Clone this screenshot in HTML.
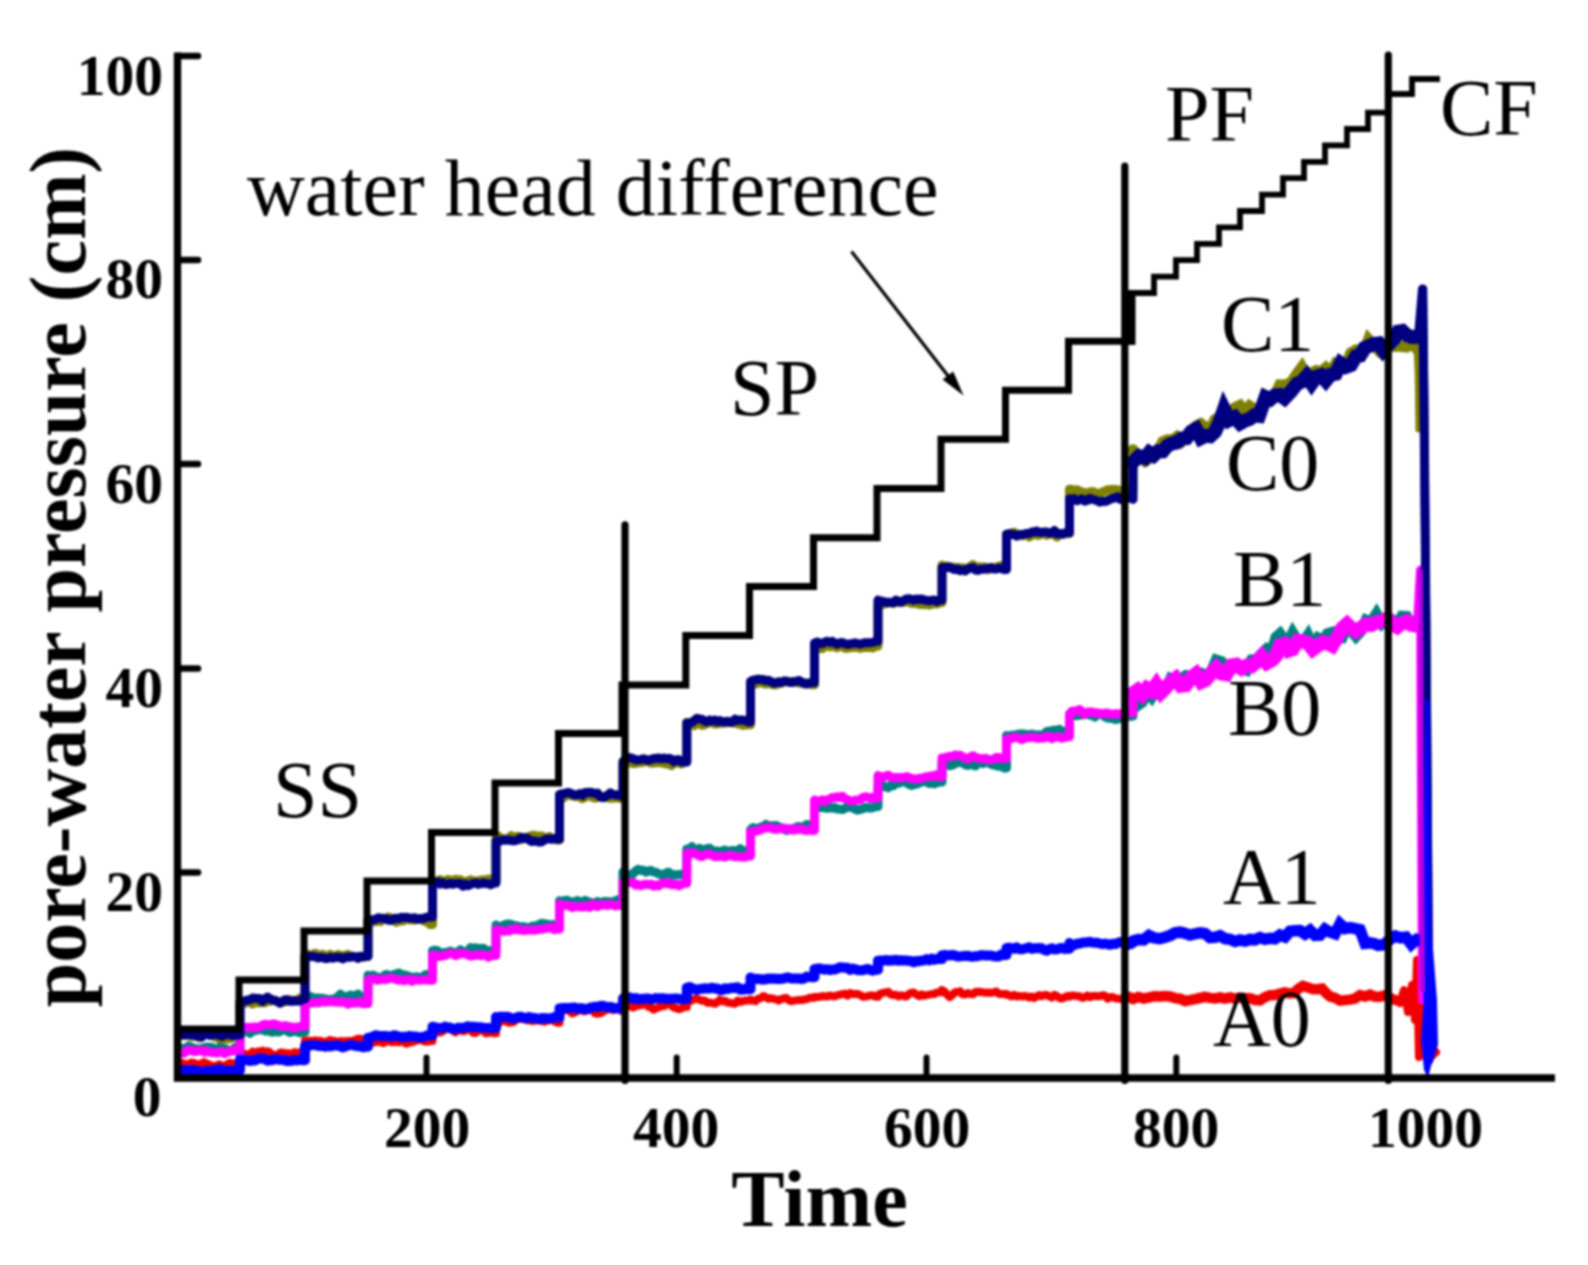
<!DOCTYPE html>
<html lang="en">
<head>
<meta charset="utf-8">
<title>Pore-water pressure versus time</title>
<style>
html,body{margin:0;padding:0;background:#fff;}
body{width:1588px;height:1265px;overflow:hidden;}
svg{display:block;filter:blur(0.9px);}
svg text{font-family:"Liberation Serif",serif;fill:#000;}
.curves path{fill:none;stroke-linejoin:round;stroke-linecap:round;}
.frame path{fill:none;}
</style>
</head>
<body>
<svg width="1588" height="1265" viewBox="0 0 1588 1265">
<rect width="1588" height="1265" fill="#fff"/>
<g class="curves">
<path d="M181 1062.6 L183.6 1063.6 L186.1 1064.9 L188.7 1063.9 L191.3 1062.4 L193.8 1063 L196.4 1063.9 L199 1065.2 L201.5 1063.3 L204.1 1062.1 L206.7 1063.7 L209.2 1064.4 L211.8 1066 L214.3 1066.3 L216.9 1065.3 L219.5 1064.4 L222 1067.2 L224.6 1065.6 L227.2 1064.1 L229.7 1062.7 L232.3 1063.3 L234.9 1063.8 L237.4 1063.5 L240 1063.5 L240 1052.6 L242.5 1053.1 L245 1053.8 L247.5 1054.8 L250 1054.3 L252.5 1051.7 L255 1053 L257.5 1051.4 L260 1051.8 L262.5 1050.6 L265 1051.6 L267.5 1051.3 L270 1052.2 L272.5 1056.3 L275 1054.9 L277.5 1055.1 L280 1052.8 L282.5 1052.5 L285 1053.5 L287.5 1053.2 L290 1053.5 L292.5 1053.4 L295 1052.1 L297.5 1053.1 L300 1052.1 L302.5 1054.6 L305 1054.6 L305 1040.4 L307.5 1041 L310 1040.6 L312.6 1041.5 L315.1 1040.2 L317.6 1041.3 L320.1 1040.6 L322.6 1041.8 L325.2 1041.8 L327.7 1041.2 L330.2 1039.9 L332.7 1040.8 L335.2 1041 L337.8 1042.5 L340.3 1041.1 L342.8 1041.3 L345.3 1041.3 L347.8 1041.1 L350.4 1040.9 L352.9 1040.8 L355.4 1039.8 L357.9 1038.7 L360.4 1038.8 L363 1039.9 L365.5 1041.7 L368 1041.7 L368 1042.1 L370.6 1042.5 L373.2 1042.4 L375.7 1042.2 L378.3 1041.5 L380.9 1041.8 L383.5 1043.1 L386.1 1041.5 L388.6 1040.1 L391.2 1042.3 L393.8 1041.7 L396.4 1042.1 L399 1042.3 L401.5 1040.1 L404.1 1042.8 L406.7 1043.7 L409.3 1042.4 L411.9 1042.3 L414.4 1041.5 L417 1039.9 L419.6 1039.8 L422.2 1040.3 L424.8 1041.5 L427.3 1041.7 L429.9 1041.1 L432.5 1041.1 L432.5 1032.7 L435 1030.9 L437.6 1031.7 L440.1 1032.5 L442.7 1031.4 L445.2 1029 L447.7 1028.5 L450.3 1029.6 L452.8 1030.6 L455.4 1032.3 L457.9 1030.4 L460.4 1030.5 L463 1031.2 L465.5 1030.8 L468.1 1027.9 L470.6 1029.9 L473.1 1032.8 L475.7 1033 L478.2 1031 L480.8 1030.3 L483.3 1030.6 L485.8 1033.4 L488.4 1033 L490.9 1032.1 L493.5 1033.2 L496 1033.2 L496 1022.1 L498.5 1023.6 L501.1 1021.6 L503.6 1020.6 L506.2 1021.4 L508.7 1022.7 L511.2 1022.5 L513.8 1022.1 L516.3 1019.4 L518.9 1019 L521.4 1018.9 L523.9 1018.9 L526.5 1020.2 L529 1020 L531.6 1021.1 L534.1 1020.9 L536.6 1020.4 L539.2 1020.6 L541.7 1021 L544.3 1021.8 L546.8 1020.7 L549.3 1020.4 L551.9 1018.9 L554.4 1021.4 L557 1022.7 L559.5 1022.7 L559.5 1012.1 L562 1011.1 L564.6 1009.7 L567.1 1010.4 L569.7 1010.9 L572.2 1013.4 L574.7 1012.7 L577.3 1011.1 L579.8 1008.3 L582.4 1011 L584.9 1011.2 L587.4 1009.3 L590 1010.2 L592.5 1008.7 L595.1 1013.6 L597.6 1013.8 L600.1 1013.4 L602.7 1012.2 L605.2 1009.3 L607.8 1009.8 L610.3 1008.5 L612.8 1010.2 L615.4 1008.1 L617.9 1008.2 L620.5 1010.7 L623 1010.7 L623 1008.4 L625.6 1006.4 L628.1 1004.8 L630.7 1006.5 L633.2 1007.6 L635.8 1006.1 L638.3 1005.5 L640.9 1005.2 L643.4 1004.4 L646 1004.6 L648.5 1006.9 L651.1 1007.6 L653.6 1009.6 L656.2 1008.3 L658.7 1007.5 L661.3 1006.1 L663.8 1006.2 L666.4 1004.9 L668.9 1003.6 L671.5 1005.6 L674 1007.7 L676.6 1008.3 L679.1 1009.2 L681.7 1008.5 L684.2 1006.9 L686.8 1006.9 L686.8 1002 L689.3 1001.5 L691.9 1000.4 L694.4 999 L697 998.4 L699.5 999.8 L702.1 1000.8 L704.6 1000.6 L707.2 1002.7 L709.7 1002.6 L712.3 1002.9 L714.8 1003.9 L717.4 1002.1 L719.9 999.7 L722.5 1001.4 L725 1000.8 L727.6 1002.7 L730.1 1002.7 L732.7 1003.5 L735.2 1003.7 L737.8 1000.6 L740.3 1001.9 L742.9 1001.1 L745.4 1000.5 L748 1000.5 L750.5 1000.5 L750.5 999.5 L753.1 1000.5 L755.6 1001.2 L758.2 998.6 L760.7 998.2 L763.3 996 L765.9 997.2 L768.4 998.8 L771 998.2 L773.5 998.9 L776.1 999.4 L778.7 1000.5 L781.2 999.1 L783.8 998.3 L786.3 997.9 L788.9 1000.5 L791.5 1001.3 L794 1000.4 L796.6 1000.3 L799.1 1000 L801.7 1000 L804.3 999.5 L806.8 999.1 L809.4 997.8 L811.9 997.7 L814.5 997.7 L814.5 996.9 L817 997.1 L819.6 996.8 L822.1 996.2 L824.7 996.2 L827.2 996.5 L829.7 995.6 L832.3 996 L834.8 996.3 L837.4 995.3 L839.9 994.7 L842.4 994.1 L845 993.6 L847.5 995.6 L850.1 993.1 L852.6 993.9 L855.1 994.1 L857.7 994.1 L860.2 995 L862.8 996.7 L865.3 996.5 L867.8 996.1 L870.4 995.4 L872.9 995.5 L875.5 996.7 L878 996.7 L878 995 L880.6 993.7 L883.1 992.8 L885.7 992.4 L888.2 991.8 L890.8 994.4 L893.4 995 L895.9 994.7 L898.5 996.5 L901 995.2 L903.6 996 L906.2 996.5 L908.7 994.1 L911.3 992.7 L913.8 992.6 L916.4 994.6 L919 996.2 L921.5 994.3 L924.1 995.8 L926.6 995 L929.2 994.6 L931.8 994.1 L934.3 994.1 L936.9 992.4 L939.4 992.3 L942 992.3 L942 990 L944.6 991.7 L947.2 994.6 L949.7 997.1 L952.3 995.1 L954.9 992.3 L957.5 992.1 L960.1 991.4 L962.6 994.3 L965.2 994.4 L967.8 993 L970.4 994.1 L973 994.3 L975.5 991.9 L978.1 991.7 L980.7 992 L983.3 992.4 L985.9 992.8 L988.4 992.5 L991 992.9 L993.6 992.3 L996.2 991.5 L998.8 993.9 L1001.3 993.9 L1003.9 994.1 L1006.5 994.1 L1006.5 994.8 L1009 995.1 L1011.5 996.4 L1014.1 994.8 L1016.6 996.5 L1019.1 995.9 L1021.6 996.4 L1024.1 996.1 L1026.7 996.3 L1029.2 997.6 L1031.7 996.5 L1034.2 998.1 L1036.7 996.3 L1039.3 995.1 L1041.8 996.3 L1044.3 995 L1046.8 995 L1049.3 996.4 L1051.9 997.6 L1054.4 994.9 L1056.9 995.9 L1059.4 998.1 L1061.9 998.6 L1064.5 997.3 L1067 996.1 L1069.5 996.1 L1069.5 996.7 L1072 995.5 L1074.6 995.8 L1077.1 996.1 L1079.7 996.3 L1082.2 997.9 L1084.7 997.3 L1087.3 995.5 L1089.8 997.3 L1092.4 996 L1094.9 995.9 L1097.4 996.2 L1100 996.1 L1102.5 995.3 L1105.1 995.7 L1107.6 998.7 L1110.1 997.3 L1112.7 997 L1115.2 998.3 L1117.8 998.6 L1120.3 998.9 L1122.8 999.1 L1125.4 996 L1127.9 995.4 L1130.5 996.2 L1133 997 L1133 999.2 L1138.4 997" stroke="#f00000" stroke-width="8" />
<path d="M1133 999.2 L1138.4 997 L1143.8 998.6 L1149.2 997.3 L1154.6 996.2 L1160 996.4 L1165 996 L1170 996.5 L1175 998.1 L1180 998.7 L1185 1001.1 L1190 1000.1 L1195 999.1 L1200 998 L1205 996.9 L1210 997.9 L1215 998.5 L1220 997.3 L1225 998.6 L1230 997.4 L1235 998.7 L1240 997.5 L1245 998.3 L1250 998.2 L1255 1000 L1260 1000.4 L1265 997.2 L1270 995.2 L1275 995.1 L1280 993.6 L1285 992.5 L1289.5 993.5 L1294 993 L1298.5 988.6 L1303 985.9 L1307.8 987.4 L1312.5 989 L1317.2 989.2 L1322 988.5 L1326 993 L1330 996.5 L1335 997.8 L1340 1000.7 L1345 1000.1 L1350 999.6 L1355 998.6 L1360 995.1 L1365 996.4 L1370 994.7 L1375 996.7 L1380 996.7 L1385 995.4 L1390 998 L1395 1000" stroke="#f00000" stroke-width="10.5" style="stroke-linejoin:miter;stroke-miterlimit:6"/>
<path d="M1395 1000 L1400 1003 L1404 990 L1408 1012 L1412 985 L1415 1020 L1417 960 L1419 1057 L1421 975 L1424 1050 L1430 1058 L1436 1052" stroke="#f00000" stroke-width="8" />
<path d="M181 1034.5 L183.6 1035.3 L186.1 1035.3 L188.7 1035.1 L191.3 1036.5 L193.8 1036.3 L196.4 1035.9 L199 1037.9 L201.5 1036.6 L204.1 1035 L206.7 1034 L209.2 1034.2 L211.8 1035.6 L214.3 1036.7 L216.9 1037.6 L219.5 1038.9 L222 1039.6 L224.6 1038.8 L227.2 1039.1 L229.7 1038.6 L232.3 1037 L234.9 1037.5 L237.4 1037 L240 1037 L240 1001.4 L242.5 1003.4 L245 1003.3 L247.5 1001.9 L250 1001.5 L252.5 1003.9 L255 1002.5 L257.5 1002.8 L260 1002.8 L262.5 1002.7 L265 1002.7 L267.5 1001.6 L270 1000.9 L272.5 1000.8 L275 1000.6 L277.5 1001.7 L280 1003.1 L282.5 1001.4 L285 1001.9 L287.5 1000.5 L290 1000 L292.5 1000.2 L295 1000.7 L297.5 1000.4 L300 997.9 L302.5 1000.7 L305 1000.7 L305 954.6 L307.5 954.1 L310 955.3 L312.6 954.6 L315.1 953.3 L317.6 954.5 L320.1 955.2 L322.6 954.3 L325.2 955.5 L327.7 955.8 L330.2 954.3 L332.7 956.5 L335.2 956.3 L337.8 954.6 L340.3 955.3 L342.8 955.4 L345.3 956.3 L347.8 954.4 L350.4 955.8 L352.9 956.6 L355.4 956.7 L357.9 956.8 L360.4 957.5 L363 957.3 L365.5 956.6 L368 956.6 L368 920.1 L370.6 921.3 L373.2 921.9 L375.7 921.5 L378.3 921.1 L380.9 921.5 L383.5 918.3 L386.1 919.4 L388.6 917 L391.2 918.5 L393.8 920.3 L396.4 922.3 L399 920.9 L401.5 921.1 L404.1 920.6 L406.7 918 L409.3 919.7 L411.9 919.8 L414.4 920 L417 919.1 L419.6 919.4 L422.2 919.8 L424.8 921.3 L427.3 921.1 L429.9 924.5 L432.5 924.5 L432.5 882.3 L435 881.1 L437.6 880.7 L440.1 879.6 L442.7 881.4 L445.2 881.6 L447.7 879.6 L450.3 880 L452.8 881.3 L455.4 879.3 L457.9 879.8 L460.4 879.7 L463 882.3 L465.5 881.9 L468.1 880.8 L470.6 879.9 L473.1 882 L475.7 880.8 L478.2 883 L480.8 880.1 L483.3 879.9 L485.8 879.8 L488.4 879.1 L490.9 879.3 L493.5 880.4 L496 880.4 L496 837.6 L498.5 836.3 L501.1 838.4 L503.6 839.9 L506.2 838.4 L508.7 838.6 L511.2 835.7 L513.8 837.8 L516.3 836.5 L518.9 836.5 L521.4 839.5 L523.9 837.6 L526.5 837.8 L529 836.8 L531.6 835.4 L534.1 835.2 L536.6 836.7 L539.2 835.9 L541.7 836.1 L544.3 837.7 L546.8 837.7 L549.3 836.5 L551.9 838.7 L554.4 838.6 L557 839.9 L559.5 839.9 L559.5 797.1 L562 798.9 L564.6 796.7 L567.1 795 L569.7 795.4 L572.2 795.7 L574.7 796.5 L577.3 796.2 L579.8 797.2 L582.4 798.6 L584.9 797.3 L587.4 795.8 L590 795.9 L592.5 797.3 L595.1 798.1 L597.6 797.3 L600.1 796.2 L602.7 796.5 L605.2 797.8 L607.8 796.8 L610.3 798.3 L612.8 798.1 L615.4 798 L617.9 797 L620.5 798.5 L623 798.5 L623 763.5 L625.6 761.5 L628.1 762.9 L630.7 762.3 L633.2 763.6 L635.8 763.4 L638.3 762.4 L640.9 762.7 L643.4 762.1 L646 761.4 L648.5 761.9 L651.1 763.1 L653.6 763 L656.2 762.7 L658.7 762.1 L661.3 762.9 L663.8 763.1 L666.4 763.9 L668.9 763.8 L671.5 765.6 L674 762.7 L676.6 762.6 L679.1 763.2 L681.7 763.9 L684.2 761.8 L686.8 761.8 L686.8 722.3 L689.3 723 L691.9 724.6 L694.4 725.6 L697 723.4 L699.5 723.8 L702.1 725.2 L704.6 724.8 L707.2 723.4 L709.7 722.9 L712.3 722 L714.8 724.1 L717.4 723.8 L719.9 723.5 L722.5 722.8 L725 723.2 L727.6 722.6 L730.1 722.1 L732.7 722.9 L735.2 723.1 L737.8 724 L740.3 724.2 L742.9 725.4 L745.4 724.9 L748 724.8 L750.5 724.8 L750.5 683.8 L753.1 682.7 L755.6 684.1 L758.2 683.1 L760.7 681.4 L763.3 683.4 L765.9 684 L768.4 683 L771 684.1 L773.5 684.7 L776.1 684.8 L778.7 682.9 L781.2 683.2 L783.8 682 L786.3 681.8 L788.9 681.7 L791.5 681.4 L794 682.6 L796.6 682 L799.1 683.1 L801.7 683.3 L804.3 682.6 L806.8 683 L809.4 683.8 L811.9 684.7 L814.5 684.7 L814.5 646.8 L817 648.4 L819.6 648.1 L822.1 648.6 L824.7 646.2 L827.2 645 L829.7 646.7 L832.3 646.3 L834.8 646.7 L837.4 647.7 L839.9 645.5 L842.4 646.3 L845 648.3 L847.5 648.3 L850.1 647.5 L852.6 647.5 L855.1 647 L857.7 647.5 L860.2 648.3 L862.8 647.2 L865.3 647.4 L867.8 647.2 L870.4 647.5 L872.9 647.9 L875.5 646 L878 646 L878 605.3 L880.6 605.7 L883.1 603.9 L885.7 603.7 L888.2 602.3 L890.8 602.7 L893.4 603.6 L895.9 602.6 L898.5 602.4 L901 602.1 L903.6 602.2 L906.2 602.1 L908.7 601.8 L911.3 603.3 L913.8 603.4 L916.4 602.8 L919 604.4 L921.5 603.7 L924.1 604.8 L926.6 603.2 L929.2 605.1 L931.8 604.2 L934.3 603.2 L936.9 604 L939.4 602.6 L942 602.6 L942 565.1 L944.6 566.1 L947.2 566 L949.7 566.9 L952.3 567.1 L954.9 567.4 L957.5 567.4 L960.1 568 L962.6 567.7 L965.2 568.6 L967.8 569 L970.4 566.2 L973 564.7 L975.5 567.3 L978.1 566.8 L980.7 567.1 L983.3 567 L985.9 567.3 L988.4 569.6 L991 567.8 L993.6 567.6 L996.2 567.4 L998.8 566.1 L1001.3 565.6 L1003.9 565.9 L1006.5 565.9 L1006.5 534.4 L1009 535.1 L1011.5 533 L1014.1 532.2 L1016.6 535.1 L1019.1 534.9 L1021.6 535.9 L1024.1 535.1 L1026.7 534.4 L1029.2 536.9 L1031.7 534.9 L1034.2 534 L1036.7 535.2 L1039.3 535.2 L1041.8 533.4 L1044.3 534.2 L1046.8 535.3 L1049.3 533.6 L1051.9 533.6 L1054.4 535.1 L1056.9 537.1 L1059.4 533.8 L1061.9 533.6 L1064.5 534.2 L1067 533.6 L1069.5 533.6 L1069.5 489.2 L1072 489.5 L1074.6 490.7 L1077.1 489.7 L1079.7 491.2 L1082.2 492 L1084.7 492.6 L1087.3 493.6 L1089.8 492 L1092.4 491.6 L1094.9 492.5 L1097.4 493.3 L1100 493.4 L1102.5 492 L1105.1 491.1 L1107.6 489.7 L1110.1 489.8 L1112.7 489.4 L1115.2 489.5 L1117.8 489.8 L1120.3 491.2 L1122.8 492.1 L1125.4 491.6 L1127.9 490.2 L1130.5 490.5 L1133 491 L1133 449.8 L1139 457" stroke="#808000" stroke-width="9" />
<path d="M1133 449.8 L1139 457 L1145 461.4 L1149.3 458.6 L1153.7 457.2 L1158 451.5 L1162.8 441.8 L1167.5 439.9 L1172.2 440.1 L1177 436.7 L1181.8 441.1 L1186.5 435.7 L1191.2 430.1 L1196 426.2 L1200.8 423.7 L1205.5 427.1 L1210.2 429.9 L1215 419.7 L1219.5 417 L1224 409.6 L1229.3 412.5 L1234.7 408 L1240 405.4 L1244.8 411.6 L1249.5 406 L1254.2 408.9 L1259 410.9 L1265.6 397 L1270.3 398.9 L1275 395.6 L1279.8 384.8 L1284.5 384.9 L1290.8 382.9 L1297 373.7 L1301.9 367.1 L1306.7 375.9 L1311.6 372.8 L1316.3 370.5 L1321.1 371.8 L1325.8 367.8 L1330.6 372.6 L1335.7 363.6 L1340.7 365.8 L1345.8 365 L1350.9 352.8 L1356 350 L1360.2 350.6 L1364.4 351 L1368.6 339.4 L1373.7 344.9 L1378.7 350.3 L1383.2 345.2 L1387.6 344.2 L1394 346.5 L1398.2 346 L1402.4 346.5 L1406.6 347 L1411.7 343 L1416.7 349" stroke="#808000" stroke-width="11" style="stroke-linejoin:miter;stroke-miterlimit:6"/>
<path d="M1416.2 352 L1417.2 372 L1418 430" stroke="#808000" stroke-width="5" />
<path d="M181 1047.9 L183.6 1049.8 L186.1 1048.1 L188.7 1045.9 L191.3 1047.1 L193.8 1048.3 L196.4 1048.7 L199 1049.1 L201.5 1048.6 L204.1 1047.7 L206.7 1047 L209.2 1047.2 L211.8 1047.2 L214.3 1048.8 L216.9 1049.3 L219.5 1047.4 L222 1048.6 L224.6 1048.5 L227.2 1049.8 L229.7 1051.1 L232.3 1050.7 L234.9 1047.5 L237.4 1048.6 L240 1048.6 L240 1029.6 L242.5 1032.2 L245 1031.1 L247.5 1030.9 L250 1033.4 L252.5 1030.4 L255 1030.8 L257.5 1029.7 L260 1029.7 L262.5 1029.4 L265 1031 L267.5 1030.8 L270 1031.4 L272.5 1032.2 L275 1029.7 L277.5 1032.1 L280 1031.5 L282.5 1029.4 L285 1029.3 L287.5 1031.2 L290 1032.5 L292.5 1031.2 L295 1031.4 L297.5 1031.7 L300 1032.8 L302.5 1032.1 L305 1032.1 L305 999 L307.5 997.2 L310 996.4 L312.6 997.6 L315.1 998.4 L317.6 997.9 L320.1 998.5 L322.6 998.3 L325.2 998.9 L327.7 999.7 L330.2 999.4 L332.7 999.6 L335.2 998.2 L337.8 997.2 L340.3 994.3 L342.8 996 L345.3 996.6 L347.8 997.6 L350.4 995.1 L352.9 995.4 L355.4 995.5 L357.9 994 L360.4 996.5 L363 998.4 L365.5 996.4 L368 996.4 L368 975.3 L370.6 977.5 L373.2 975.1 L375.7 976.5 L378.3 978 L380.9 979.3 L383.5 976 L386.1 974.4 L388.6 975.1 L391.2 976.7 L393.8 974.6 L396.4 973.9 L399 973.1 L401.5 975.4 L404.1 974.7 L406.7 975.7 L409.3 976.4 L411.9 977.4 L414.4 977.1 L417 976.8 L419.6 977.7 L422.2 977.4 L424.8 975 L427.3 974.5 L429.9 976 L432.5 976 L432.5 950.9 L435 950.2 L437.6 950.6 L440.1 954.7 L442.7 952.9 L445.2 952.5 L447.7 952.2 L450.3 951.1 L452.8 952.3 L455.4 952.6 L457.9 952.2 L460.4 949.8 L463 951.6 L465.5 952.1 L468.1 951.3 L470.6 947.5 L473.1 948.6 L475.7 947.8 L478.2 948.5 L480.8 948.6 L483.3 948.3 L485.8 950.4 L488.4 950.5 L490.9 952 L493.5 950.1 L496 950.1 L496 925 L498.5 926.9 L501.1 926.7 L503.6 925.2 L506.2 924.2 L508.7 923.9 L511.2 924.4 L513.8 925.6 L516.3 925.7 L518.9 926.5 L521.4 927.1 L523.9 926.6 L526.5 927.7 L529 927.7 L531.6 926.5 L534.1 925.9 L536.6 925.6 L539.2 924.6 L541.7 923.2 L544.3 924.1 L546.8 924 L549.3 925.3 L551.9 924.5 L554.4 925 L557 925.4 L559.5 925.4 L559.5 900.8 L562 901.3 L564.6 900.4 L567.1 900.2 L569.7 901.7 L572.2 902 L574.7 901.8 L577.3 900.6 L579.8 901.8 L582.4 904.1 L584.9 900.3 L587.4 902 L590 902 L592.5 903.1 L595.1 903.9 L597.6 901.6 L600.1 903.7 L602.7 902 L605.2 901.4 L607.8 902.2 L610.3 901.7 L612.8 901.9 L615.4 901 L617.9 899.8 L620.5 900.5 L623 900.5 L623 871.9 L625.6 874.4 L628.1 874.5 L630.7 876 L633.2 873.6 L635.8 871 L638.3 869.3 L640.9 870.6 L643.4 870.3 L646 872.2 L648.5 871 L651.1 870.4 L653.6 872.1 L656.2 872.3 L658.7 873.8 L661.3 874.8 L663.8 874.9 L666.4 872.9 L668.9 872.2 L671.5 875.7 L674 874.7 L676.6 874.7 L679.1 874.5 L681.7 874.2 L684.2 873.8 L686.8 873.8 L686.8 849.1 L689.3 848.8 L691.9 846.6 L694.4 850 L697 849.8 L699.5 848.2 L702.1 849.5 L704.6 850.5 L707.2 848.4 L709.7 848.3 L712.3 850.8 L714.8 851.1 L717.4 851.1 L719.9 851.9 L722.5 850.9 L725 850.1 L727.6 852 L730.1 850.9 L732.7 850.4 L735.2 851 L737.8 850.6 L740.3 848.7 L742.9 851.5 L745.4 850.8 L748 852.7 L750.5 852.7 L750.5 829.7 L753.1 827.6 L755.6 829.4 L758.2 828.4 L760.7 826.9 L763.3 827 L765.9 824.4 L768.4 826.1 L771 825.7 L773.5 826 L776.1 825.4 L778.7 827 L781.2 827.6 L783.8 828.9 L786.3 830.4 L788.9 829.5 L791.5 828.7 L794 828.6 L796.6 827 L799.1 826.5 L801.7 827.8 L804.3 826.5 L806.8 824.4 L809.4 825.1 L811.9 826.3 L814.5 826.3 L814.5 809.6 L817 808.2 L819.6 807.1 L822.1 807.7 L824.7 807.7 L827.2 808.3 L829.7 807.7 L832.3 808.2 L834.8 807.5 L837.4 809.1 L839.9 809.1 L842.4 809.5 L845 808.5 L847.5 806.6 L850.1 807.3 L852.6 807.6 L855.1 809.3 L857.7 810.1 L860.2 809.4 L862.8 808.9 L865.3 807.4 L867.8 807.7 L870.4 808.2 L872.9 807.7 L875.5 806.6 L878 806.6 L878 784.9 L880.6 783.5 L883.1 785.9 L885.7 786.8 L888.2 787.7 L890.8 785.3 L893.4 785.7 L895.9 783.4 L898.5 783.3 L901 781.8 L903.6 781.9 L906.2 782.2 L908.7 784.3 L911.3 785.6 L913.8 784.6 L916.4 784.1 L919 783 L921.5 782.1 L924.1 780.7 L926.6 781.9 L929.2 783.6 L931.8 782.9 L934.3 783.9 L936.9 782.6 L939.4 782 L942 782 L942 763.3 L944.6 765.2 L947.2 764.6 L949.7 765.8 L952.3 765.2 L954.9 763.8 L957.5 761.9 L960.1 762.6 L962.6 762.5 L965.2 764.7 L967.8 765.5 L970.4 763.4 L973 765.2 L975.5 765.9 L978.1 762 L980.7 762 L983.3 763.6 L985.9 762.3 L988.4 762.6 L991 764.3 L993.6 765 L996.2 765.7 L998.8 766.3 L1001.3 764.8 L1003.9 767.9 L1006.5 767.9 L1006.5 735.5 L1009 737.3 L1011.5 735.3 L1014.1 735.2 L1016.6 734.8 L1019.1 734 L1021.6 734.1 L1024.1 734.1 L1026.7 734.8 L1029.2 734.6 L1031.7 734.1 L1034.2 734.4 L1036.7 735.7 L1039.3 734.8 L1041.8 734.9 L1044.3 734.4 L1046.8 731.5 L1049.3 731.1 L1051.9 730.8 L1054.4 730.1 L1056.9 730.6 L1059.4 729.4 L1061.9 731.3 L1064.5 731.4 L1067 733.7 L1069.5 733.7 L1069.5 717 L1072 715.1 L1074.6 715.3 L1077.1 715.7 L1079.7 715.1 L1082.2 715.1 L1084.7 714.2 L1087.3 714.1 L1089.8 715.3 L1092.4 715.3 L1094.9 717.1 L1097.4 714.2 L1100 714 L1102.5 714.4 L1105.1 717 L1107.6 718.1 L1110.1 718.3 L1112.7 718.6 L1115.2 719.6 L1117.8 719.1 L1120.3 717.7 L1122.8 717.3 L1125.4 716 L1127.9 715.8 L1130.5 716.4 L1133 716 L1133 695.9 L1137.7 705.4" stroke="#008080" stroke-width="9" />
<path d="M1133 695.9 L1137.7 705.4 L1142.3 702.2 L1146.9 691.7 L1151.6 697.2 L1156.3 689.4 L1161.1 694 L1165.8 689.9 L1170.6 678.9 L1175.7 681.7 L1180.8 679.3 L1185.8 675.5 L1190.9 676.4 L1196 674.8 L1201.1 673.3 L1206.1 677 L1211.2 671.6 L1216.2 660.1 L1221.3 661.7 L1226.4 670.6 L1231.4 668.8 L1236.5 667.6 L1241.5 669 L1246.6 670.4 L1251.7 659.8 L1256.8 659.1 L1261.8 653.5 L1266.9 648.6 L1272 651.2 L1276 637.3 L1280 633.8 L1284.2 639.9 L1288.5 641.5 L1292.7 632.9 L1297.8 641.4 L1302.8 642.5 L1307.9 635.1 L1312.9 646.3 L1318 638 L1322.8 640.4 L1327.5 633.7 L1332.2 632.3 L1337 638.1 L1342 637.9 L1347 626 L1351.5 630.8 L1356 636.4 L1361 631.2 L1366 620.2 L1371 622.3 L1376.5 613.7 L1382.1 623.6 L1387.6 619.2 L1392.3 620 L1397.1 624.3 L1401.8 616.2 L1406.6 616.6 L1411 624.6 L1415.4 625.5" stroke="#008080" stroke-width="11" style="stroke-linejoin:miter;stroke-miterlimit:6"/>
<path d="M181 1052.9 L183.6 1053.3 L186.1 1051.4 L188.7 1049.6 L191.3 1050.4 L193.8 1051.6 L196.4 1051.5 L199 1050.2 L201.5 1050.3 L204.1 1052.3 L206.7 1050.7 L209.2 1052.1 L211.8 1052.5 L214.3 1052.6 L216.9 1053 L219.5 1051.9 L222 1051.7 L224.6 1053.5 L227.2 1052.4 L229.7 1051.7 L232.3 1050.3 L234.9 1050.4 L237.4 1051.7 L240 1051.7 L240 1027.2 L242.5 1027.3 L245 1027.4 L247.5 1027.4 L250 1027.2 L252.5 1027.7 L255 1026.9 L257.5 1027.6 L260 1026.9 L262.5 1025 L265 1024.2 L267.5 1024.7 L270 1024.8 L272.5 1024.1 L275 1024.1 L277.5 1025.1 L280 1025.8 L282.5 1026.7 L285 1025.6 L287.5 1026.1 L290 1027.1 L292.5 1027 L295 1028.3 L297.5 1026.9 L300 1026.6 L302.5 1026.5 L305 1026.5 L305 1002.9 L307.5 1002.9 L310 1003.2 L312.6 1003.1 L315.1 1002.6 L317.6 1002.3 L320.1 1002.5 L322.6 1001.3 L325.2 1002.1 L327.7 1001.4 L330.2 1001.8 L332.7 1001.3 L335.2 1002.1 L337.8 1002.1 L340.3 1002.2 L342.8 1001.8 L345.3 1002.4 L347.8 1004.2 L350.4 1002 L352.9 1002.9 L355.4 1003.1 L357.9 1002.7 L360.4 1001.6 L363 1003.7 L365.5 1003.6 L368 1003.6 L368 980.3 L370.6 979.4 L373.2 978.5 L375.7 979.8 L378.3 980.2 L380.9 979.4 L383.5 979 L386.1 979.6 L388.6 978.6 L391.2 978 L393.8 978.4 L396.4 979.6 L399 980.2 L401.5 979.9 L404.1 980.8 L406.7 979.9 L409.3 979.1 L411.9 981.3 L414.4 979.9 L417 980.1 L419.6 980.2 L422.2 979.8 L424.8 979.7 L427.3 980.1 L429.9 980.2 L432.5 980.2 L432.5 955.2 L435 955.1 L437.6 956.4 L440.1 956.5 L442.7 955.5 L445.2 955.4 L447.7 954.3 L450.3 953.4 L452.8 953.5 L455.4 955.6 L457.9 954.8 L460.4 953 L463 953.7 L465.5 953.6 L468.1 954.9 L470.6 956.1 L473.1 955.4 L475.7 955.3 L478.2 954.4 L480.8 955.8 L483.3 954.8 L485.8 954.9 L488.4 957.2 L490.9 955.5 L493.5 955.4 L496 955.4 L496 929.7 L498.5 930.1 L501.1 930.3 L503.6 931.4 L506.2 931.1 L508.7 931 L511.2 929.3 L513.8 929.8 L516.3 928.4 L518.9 930 L521.4 929.8 L523.9 930.6 L526.5 929.7 L529 929.9 L531.6 929.8 L534.1 930.2 L536.6 929.8 L539.2 929.2 L541.7 929 L544.3 928.6 L546.8 928.1 L549.3 927.5 L551.9 927 L554.4 929.8 L557 929 L559.5 929 L559.5 903.7 L562 905.1 L564.6 905.4 L567.1 905.1 L569.7 906.2 L572.2 907.5 L574.7 905.7 L577.3 906.8 L579.8 906.6 L582.4 907.1 L584.9 905.8 L587.4 907.1 L590 907.3 L592.5 904 L595.1 905.6 L597.6 906.6 L600.1 904.7 L602.7 905.1 L605.2 904.9 L607.8 905.2 L610.3 904.3 L612.8 905.2 L615.4 905.8 L617.9 905.4 L620.5 905.2 L623 905.2 L623 882 L625.6 883.1 L628.1 882.1 L630.7 882.7 L633.2 882.3 L635.8 885.2 L638.3 884.6 L640.9 885.6 L643.4 884.7 L646 884.2 L648.5 884.6 L651.1 884.2 L653.6 886.1 L656.2 884.9 L658.7 885.9 L661.3 883.8 L663.8 882.9 L666.4 883.7 L668.9 882.4 L671.5 884.7 L674 884.7 L676.6 884.3 L679.1 885.7 L681.7 884.3 L684.2 883.3 L686.8 883.3 L686.8 853.4 L689.3 852.6 L691.9 853.7 L694.4 852.7 L697 854.7 L699.5 856.2 L702.1 856.6 L704.6 854.8 L707.2 854.5 L709.7 853.8 L712.3 855.4 L714.8 856.6 L717.4 856.2 L719.9 856.2 L722.5 856.3 L725 856.9 L727.6 855.7 L730.1 854.9 L732.7 856.1 L735.2 856.6 L737.8 856.8 L740.3 856.6 L742.9 857.1 L745.4 857.1 L748 856.1 L750.5 856.1 L750.5 831.7 L753.1 832.1 L755.6 831 L758.2 830.5 L760.7 829.7 L763.3 828.5 L765.9 828.1 L768.4 827.5 L771 827.9 L773.5 829.1 L776.1 829.4 L778.7 828.3 L781.2 828.8 L783.8 828.7 L786.3 828.2 L788.9 830 L791.5 829 L794 830.3 L796.6 828.6 L799.1 829.4 L801.7 829 L804.3 830.3 L806.8 830.6 L809.4 829.6 L811.9 830.4 L814.5 830.4 L814.5 800.1 L817 800.8 L819.6 801.3 L822.1 799.9 L824.7 801.5 L827.2 799.8 L829.7 799.2 L832.3 797.5 L834.8 797.7 L837.4 796.7 L839.9 797.6 L842.4 796.3 L845 799 L847.5 799.7 L850.1 800.8 L852.6 801 L855.1 800.2 L857.7 800.1 L860.2 799.7 L862.8 797.5 L865.3 796.8 L867.8 797.2 L870.4 798.7 L872.9 797.3 L875.5 798 L878 798 L878 775.6 L880.6 776.7 L883.1 777.4 L885.7 776 L888.2 775.2 L890.8 777.1 L893.4 777.9 L895.9 777.3 L898.5 777.8 L901 777.4 L903.6 777.5 L906.2 776.7 L908.7 777.2 L911.3 778.5 L913.8 779.1 L916.4 779.3 L919 778.3 L921.5 778.6 L924.1 777.3 L926.6 776.7 L929.2 776.8 L931.8 775.7 L934.3 776.2 L936.9 774.7 L939.4 777 L942 777 L942 758.1 L944.6 758 L947.2 756.9 L949.7 756.4 L952.3 756.3 L954.9 755 L957.5 755.4 L960.1 755.2 L962.6 756.8 L965.2 758.2 L967.8 759.1 L970.4 757 L973 755.7 L975.5 757.6 L978.1 758.1 L980.7 758.7 L983.3 758.7 L985.9 758.3 L988.4 759.8 L991 759.6 L993.6 759.2 L996.2 757.4 L998.8 757.4 L1001.3 758.6 L1003.9 758.5 L1006.5 758.5 L1006.5 739.1 L1009 738.2 L1011.5 738.6 L1014.1 737.5 L1016.6 737.3 L1019.1 738.3 L1021.6 739.6 L1024.1 738.4 L1026.7 737.8 L1029.2 737.4 L1031.7 737.2 L1034.2 737.3 L1036.7 738.2 L1039.3 738.2 L1041.8 737.8 L1044.3 738.1 L1046.8 736.1 L1049.3 736.4 L1051.9 738.7 L1054.4 737.2 L1056.9 736.7 L1059.4 737.2 L1061.9 738.2 L1064.5 737.6 L1067 736.5 L1069.5 736.5 L1069.5 713.8 L1072 711.2 L1074.6 711 L1077.1 711 L1079.7 709.5 L1082.2 712.1 L1084.7 714.3 L1087.3 712.3 L1089.8 712.1 L1092.4 712.1 L1094.9 713.1 L1097.4 712.8 L1100 713.4 L1102.5 713.6 L1105.1 713.2 L1107.6 713.1 L1110.1 714.3 L1112.7 713.9 L1115.2 714.1 L1117.8 713.6 L1120.3 714 L1122.8 715.1 L1125.4 714.3 L1127.9 713.2 L1130.5 712.4 L1133 712.8 L1133 693.2 L1137.7 690" stroke="#ff00ff" stroke-width="9" />
<path d="M1133 693.2 L1137.7 690 L1142.3 694.6 L1146.9 688.4 L1151.6 691 L1156.3 684.5 L1161.1 692.3 L1165.8 687.7 L1170.6 682.2 L1175.7 678.4 L1180.8 685.7 L1185.8 685.1 L1190.9 677.7 L1196 673.9 L1201.1 681.9 L1206.1 679.5 L1211.2 673.2 L1216.2 667.8 L1221.3 673.4 L1226.4 674.3 L1231.4 665.4 L1236.5 664.6 L1241.5 668.6 L1246.6 665.7 L1251.7 666.3 L1256.8 661.8 L1261.8 656.3 L1266.9 662.9 L1272 660.1 L1276 655.9 L1280 645.2 L1284.2 644 L1288.5 650.6 L1292.7 649.2 L1297.8 640.9 L1302.8 641.4 L1307.9 642.7 L1312.9 649.3 L1318 645.6 L1322.8 642.1 L1327.5 643.4 L1332.2 645.7 L1337 637.8 L1342 628.4 L1347 624 L1351.5 628.3 L1356 631.2 L1361 627.7 L1366 624.3 L1371 625 L1376.5 622.4 L1382.1 621 L1387.6 618.4 L1392.3 624.4 L1397.1 627.1 L1401.8 623.2 L1406.6 621.2 L1411 624.7 L1415.4 625.5" stroke="#ff00ff" stroke-width="14" style="stroke-linejoin:miter;stroke-miterlimit:6"/>
<path d="M1415.4 625.5 L1418 615 L1420.5 570 L1421 700 L1422.5 1000" stroke="#ff00ff" stroke-width="9" />
<path d="M181 1035.1 L183.6 1035.1 L186.1 1035 L188.7 1034.4 L191.3 1034.8 L193.8 1034.9 L196.4 1036 L199 1034.6 L201.5 1037.3 L204.1 1033.2 L206.7 1034 L209.2 1035.3 L211.8 1035 L214.3 1034.2 L216.9 1034.5 L219.5 1035.4 L222 1036.5 L224.6 1034.3 L227.2 1034.8 L229.7 1034.2 L232.3 1035.6 L234.9 1034.8 L237.4 1035 L240 1035 L240 1001.7 L242.5 1000.9 L245 1001 L247.5 1000 L250 999.9 L252.5 998.1 L255 998.2 L257.5 998.5 L260 998.6 L262.5 1001.5 L265 998.7 L267.5 997.1 L270 998.7 L272.5 1000 L275 1000.3 L277.5 1001.5 L280 1003.1 L282.5 1001.6 L285 999.7 L287.5 999.8 L290 1001.2 L292.5 1001.3 L295 1000.7 L297.5 1000.9 L300 1001 L302.5 999 L305 999 L305 957 L307.5 956.3 L310 956.5 L312.6 956.3 L315.1 956.8 L317.6 958 L320.1 957.5 L322.6 957.6 L325.2 958.5 L327.7 958.5 L330.2 957.4 L332.7 958.2 L335.2 957.5 L337.8 957.2 L340.3 957.5 L342.8 959 L345.3 957.5 L347.8 957.1 L350.4 957.3 L352.9 956.5 L355.4 957 L357.9 958.4 L360.4 956.2 L363 956.7 L365.5 956.3 L368 956.3 L368 919.8 L370.6 919.8 L373.2 919.9 L375.7 919.2 L378.3 917.8 L380.9 918.1 L383.5 918.6 L386.1 918.6 L388.6 920.3 L391.2 920.3 L393.8 918.7 L396.4 918.2 L399 918.6 L401.5 917.3 L404.1 917.6 L406.7 917.3 L409.3 917.9 L411.9 918.3 L414.4 917.7 L417 919.3 L419.6 918.4 L422.2 919.1 L424.8 917.8 L427.3 917.1 L429.9 917 L432.5 917 L432.5 882.1 L435 883.4 L437.6 881.9 L440.1 884.1 L442.7 882.6 L445.2 884.4 L447.7 884.2 L450.3 883.3 L452.8 884.2 L455.4 883.4 L457.9 883.4 L460.4 883.4 L463 886.3 L465.5 884.1 L468.1 885.7 L470.6 884.5 L473.1 883.3 L475.7 882.8 L478.2 884.3 L480.8 883.7 L483.3 882.8 L485.8 883.6 L488.4 883.8 L490.9 884.7 L493.5 883 L496 883 L496 841.1 L498.5 841.8 L501.1 840.3 L503.6 839.8 L506.2 840.3 L508.7 839.9 L511.2 840.6 L513.8 840.9 L516.3 840.4 L518.9 839.1 L521.4 837.3 L523.9 838.6 L526.5 837.8 L529 839.7 L531.6 841.5 L534.1 841 L536.6 841.4 L539.2 842 L541.7 841.9 L544.3 840 L546.8 838.9 L549.3 838.8 L551.9 839.3 L554.4 838.6 L557 839.3 L559.5 839.3 L559.5 794.5 L562 793.7 L564.6 793.6 L567.1 792.6 L569.7 792.8 L572.2 794 L574.7 795.2 L577.3 794.7 L579.8 793.5 L582.4 795.4 L584.9 792.6 L587.4 792.5 L590 792.2 L592.5 792.7 L595.1 793.6 L597.6 793.1 L600.1 796.9 L602.7 797.6 L605.2 796.8 L607.8 795 L610.3 792.9 L612.8 794.4 L615.4 794.9 L617.9 794.8 L620.5 795.8 L623 795.8 L623 761.4 L625.6 759.2 L628.1 757.4 L630.7 757.9 L633.2 758.7 L635.8 759.7 L638.3 759.9 L640.9 759.6 L643.4 758.7 L646 759.6 L648.5 760.3 L651.1 759.4 L653.6 758.5 L656.2 758.5 L658.7 757.9 L661.3 758.8 L663.8 757.9 L666.4 758.9 L668.9 758.3 L671.5 759.3 L674 761.8 L676.6 759.8 L679.1 759.8 L681.7 762.1 L684.2 762 L686.8 762 L686.8 723.2 L689.3 723.1 L691.9 722.2 L694.4 720.5 L697 718.3 L699.5 718.8 L702.1 719.3 L704.6 721.3 L707.2 721.7 L709.7 720 L712.3 721.1 L714.8 720 L717.4 721.8 L719.9 720.6 L722.5 721.8 L725 721.8 L727.6 721.2 L730.1 722.4 L732.7 721.8 L735.2 719.2 L737.8 720.5 L740.3 719.9 L742.9 720.1 L745.4 720.9 L748 721.9 L750.5 721.9 L750.5 681.4 L753.1 680.2 L755.6 679.8 L758.2 679.1 L760.7 679.6 L763.3 679.4 L765.9 680.8 L768.4 680.2 L771 681.5 L773.5 683.1 L776.1 682.7 L778.7 681.8 L781.2 682.7 L783.8 681.1 L786.3 681 L788.9 682.3 L791.5 682.4 L794 681.6 L796.6 681.1 L799.1 680.5 L801.7 682.2 L804.3 683.7 L806.8 684.1 L809.4 682.9 L811.9 682.5 L814.5 682.5 L814.5 643.1 L817 642 L819.6 643.1 L822.1 643.8 L824.7 642.2 L827.2 641.3 L829.7 642.4 L832.3 641.3 L834.8 643.1 L837.4 644.3 L839.9 642.7 L842.4 642.5 L845 643.7 L847.5 644.5 L850.1 643.9 L852.6 643.4 L855.1 643 L857.7 643.6 L860.2 644 L862.8 643.4 L865.3 642.7 L867.8 642.8 L870.4 642.7 L872.9 642.4 L875.5 641.3 L878 641.3 L878 600.1 L880.6 601.3 L883.1 601.3 L885.7 602.4 L888.2 602.3 L890.8 602.5 L893.4 602.8 L895.9 600.1 L898.5 601.2 L901 602.2 L903.6 600.6 L906.2 598.9 L908.7 598.7 L911.3 599.3 L913.8 600.3 L916.4 599 L919 599.6 L921.5 599 L924.1 600 L926.6 600.3 L929.2 600.8 L931.8 600.3 L934.3 600.1 L936.9 601.4 L939.4 600.1 L942 600.1 L942 567.8 L944.6 567.4 L947.2 567.5 L949.7 567.1 L952.3 568.8 L954.9 569.6 L957.5 568.9 L960.1 570.7 L962.6 570 L965.2 570.9 L967.8 568.8 L970.4 568.1 L973 567.6 L975.5 570 L978.1 570.4 L980.7 569.2 L983.3 569.2 L985.9 568.8 L988.4 568.6 L991 567.6 L993.6 568.9 L996.2 569.1 L998.8 568.1 L1001.3 568.6 L1003.9 569.5 L1006.5 569.5 L1006.5 534.4 L1009 533.7 L1011.5 534.3 L1014.1 534.7 L1016.6 536.2 L1019.1 534.6 L1021.6 534.6 L1024.1 534.2 L1026.7 533.4 L1029.2 533.5 L1031.7 532.1 L1034.2 531.9 L1036.7 531.1 L1039.3 532.3 L1041.8 532.4 L1044.3 531.9 L1046.8 532.1 L1049.3 533.2 L1051.9 532.9 L1054.4 530.5 L1056.9 533.9 L1059.4 533.4 L1061.9 534.3 L1064.5 532.9 L1067 532.7 L1069.5 532.7 L1069.5 498.8 L1072 499.3 L1074.6 498.7 L1077.1 500.7 L1079.7 499.4 L1082.2 499 L1084.7 501.2 L1087.3 500.5 L1089.8 498.3 L1092.4 499.4 L1094.9 499.9 L1097.4 501 L1100 502.2 L1102.5 501.1 L1105.1 501.5 L1107.6 500.7 L1110.1 499.2 L1112.7 498.4 L1115.2 497.8 L1117.8 496.8 L1120.3 499.4 L1122.8 498.6 L1125.4 497.5 L1127.9 498.1 L1130.5 497.3 L1133 499.4 L1133 462.1 L1139 456.1" stroke="#000080" stroke-width="9" />
<path d="M1133 462.1 L1139 456.1 L1145 458 L1149.3 452.5 L1153.7 455.3 L1158 451.2 L1162.8 451.3 L1167.5 445.6 L1172.2 443.4 L1177 442.4 L1181.8 438.5 L1186.5 438.1 L1191.2 431.6 L1196 429 L1200.8 438.2 L1205.5 435.8 L1210.2 436.3 L1215 431.8 L1219.5 422.2 L1224 409.1 L1229.3 420 L1234.7 417.3 L1240 423.4 L1244.8 420.6 L1249.5 419 L1254.2 415.4 L1259 415.9 L1265.6 397.1 L1270.3 399.3 L1275 395.3 L1279.8 394.9 L1284.5 398.2 L1290.8 391.6 L1297 383.8 L1301.9 381.6 L1306.7 376.2 L1311.6 383.4 L1316.3 376.8 L1321.1 375.3 L1325.8 380.7 L1330.6 374.7 L1335.7 373.8 L1340.7 363.4 L1345.8 367 L1350.9 365.1 L1356 356.3 L1360.2 355.5 L1364.4 348.1 L1368.6 346.3 L1373.7 344 L1378.7 343.5 L1383.2 350.3 L1387.6 345.4 L1394 339 L1398.2 331.7 L1402.4 331 L1406.6 335 L1411.7 337 L1416.7 337" stroke="#000080" stroke-width="14" style="stroke-linejoin:miter;stroke-miterlimit:6"/>
<path d="M1416.7 337 L1419 330 L1422.5 289 L1424 400 L1426 620 L1428.5 1000 L1429 1060" stroke="#000080" stroke-width="9" />
<path d="M181 1070 L183.6 1070.8 L186.1 1070 L188.7 1070.6 L191.3 1069.7 L193.8 1070.6 L196.4 1070.5 L199 1071.5 L201.5 1071.7 L204.1 1071.3 L206.7 1070.8 L209.2 1071 L211.8 1070.8 L214.3 1070.1 L216.9 1070.7 L219.5 1068.9 L222 1069.5 L224.6 1071.4 L227.2 1071.4 L229.7 1070.1 L232.3 1071 L234.9 1070.9 L237.4 1070.3 L240 1070.3 L240 1059.2 L242.5 1059.5 L245 1060.2 L247.5 1059.9 L250 1061.1 L252.5 1060.1 L255 1060.5 L257.5 1059.1 L260 1058 L262.5 1058.6 L265 1059.3 L267.5 1060.8 L270 1060.1 L272.5 1060.2 L275 1059.1 L277.5 1059.4 L280 1059.9 L282.5 1059.6 L285 1060.4 L287.5 1061.1 L290 1061 L292.5 1060.5 L295 1060 L297.5 1060.4 L300 1059.4 L302.5 1060.2 L305 1060.2 L305 1045.9 L307.5 1046.2 L310 1045.4 L312.6 1045 L315.1 1044.9 L317.6 1045.7 L320.1 1045.9 L322.6 1046 L325.2 1046.7 L327.7 1045.8 L330.2 1046.5 L332.7 1045.9 L335.2 1045.4 L337.8 1045.3 L340.3 1046.3 L342.8 1047.4 L345.3 1046.5 L347.8 1045.6 L350.4 1044.7 L352.9 1045.2 L355.4 1045.9 L357.9 1046.2 L360.4 1046.3 L363 1047.2 L365.5 1046.8 L368 1046.8 L368 1037.8 L370.6 1037.3 L373.2 1036.5 L375.7 1035.2 L378.3 1035.9 L380.9 1036 L383.5 1036 L386.1 1036 L388.6 1036.4 L391.2 1036.8 L393.8 1035.3 L396.4 1035.7 L399 1036.6 L401.5 1037 L404.1 1036.8 L406.7 1037 L409.3 1035.9 L411.9 1036.6 L414.4 1036.6 L417 1036.8 L419.6 1037.3 L422.2 1037.3 L424.8 1036.4 L427.3 1035.2 L429.9 1035.6 L432.5 1035.6 L432.5 1026.7 L435 1027.2 L437.6 1028 L440.1 1028.1 L442.7 1028.1 L445.2 1026.6 L447.7 1027.5 L450.3 1027.6 L452.8 1029 L455.4 1028.9 L457.9 1027.8 L460.4 1027.8 L463 1028.1 L465.5 1027.2 L468.1 1026.2 L470.6 1027 L473.1 1026.8 L475.7 1027 L478.2 1027.2 L480.8 1027.2 L483.3 1027.8 L485.8 1027.9 L488.4 1027.9 L490.9 1028.4 L493.5 1028 L496 1028 L496 1017.1 L498.5 1017.4 L501.1 1016.6 L503.6 1017.2 L506.2 1016.6 L508.7 1017 L511.2 1018.2 L513.8 1018.5 L516.3 1017.6 L518.9 1016.7 L521.4 1016.8 L523.9 1017.9 L526.5 1018.2 L529 1016.9 L531.6 1017.8 L534.1 1018 L536.6 1018.4 L539.2 1019.1 L541.7 1018 L544.3 1018.3 L546.8 1018.2 L549.3 1018.7 L551.9 1018.1 L554.4 1017 L557 1017.4 L559.5 1017.4 L559.5 1008.5 L562 1008.1 L564.6 1007.9 L567.1 1008.1 L569.7 1008 L572.2 1007.7 L574.7 1007.5 L577.3 1008.8 L579.8 1008.2 L582.4 1008.2 L584.9 1009 L587.4 1009.4 L590 1007.7 L592.5 1007.3 L595.1 1006.7 L597.6 1007.2 L600.1 1005.9 L602.7 1005.8 L605.2 1006.6 L607.8 1007.4 L610.3 1006.8 L612.8 1007.5 L615.4 1008.6 L617.9 1007.7 L620.5 1008.7 L623 1008.7 L623 998.4 L625.6 996.7 L628.1 997.3 L630.7 997.7 L633.2 998.9 L635.8 998 L638.3 999.3 L640.9 998.8 L643.4 998.9 L646 998.4 L648.5 998.6 L651.1 999.3 L653.6 998.8 L656.2 998.1 L658.7 998.5 L661.3 998.2 L663.8 998.3 L666.4 998.9 L668.9 998.7 L671.5 998.7 L674 998.6 L676.6 998.4 L679.1 998.9 L681.7 999.4 L684.2 999.1 L686.8 999.1 L686.8 987.7 L689.3 986.9 L691.9 988.1 L694.4 989.2 L697 989.8 L699.5 988.9 L702.1 988.8 L704.6 988.3 L707.2 988.6 L709.7 988.4 L712.3 987.7 L714.8 988.4 L717.4 988.4 L719.9 989.9 L722.5 990.1 L725 988.3 L727.6 989 L730.1 988.1 L732.7 987.8 L735.2 987.9 L737.8 987.2 L740.3 989.8 L742.9 989.8 L745.4 988.6 L748 989.3 L750.5 989.3 L750.5 977.5 L753.1 978.8 L755.6 978.8 L758.2 978.9 L760.7 979.4 L763.3 979.2 L765.9 979.4 L768.4 978.4 L771 978.8 L773.5 978.5 L776.1 978.9 L778.7 978.7 L781.2 978.9 L783.8 978.5 L786.3 977.6 L788.9 977.5 L791.5 978.6 L794 978.4 L796.6 978.6 L799.1 978.4 L801.7 979.1 L804.3 978.4 L806.8 976.6 L809.4 976.9 L811.9 977.2 L814.5 977.2 L814.5 969.1 L817 968.6 L819.6 968.4 L822.1 969.1 L824.7 969.7 L827.2 969.2 L829.7 970.1 L832.3 969.4 L834.8 969.4 L837.4 968.6 L839.9 967.3 L842.4 967.5 L845 967.7 L847.5 967.7 L850.1 969.9 L852.6 968.5 L855.1 969.1 L857.7 970.2 L860.2 970.3 L862.8 970.2 L865.3 969.4 L867.8 968.9 L870.4 969.9 L872.9 970.7 L875.5 969.7 L878 969.7 L878 960.7 L880.6 960.5 L883.1 960.8 L885.7 960 L888.2 960.8 L890.8 960.2 L893.4 960.4 L895.9 959.8 L898.5 960.7 L901 960.2 L903.6 960.6 L906.2 960.4 L908.7 960.9 L911.3 960.9 L913.8 962.3 L916.4 960.9 L919 961.2 L921.5 960.4 L924.1 960.4 L926.6 959.1 L929.2 960.4 L931.8 958.6 L934.3 959.8 L936.9 958.8 L939.4 959.1 L942 959.1 L942 955.3 L944.6 954.8 L947.2 955.3 L949.7 955.4 L952.3 955 L954.9 955.5 L957.5 956.5 L960.1 956.4 L962.6 956.1 L965.2 955.9 L967.8 955.7 L970.4 956.5 L973 956.7 L975.5 956.2 L978.1 956.2 L980.7 955.2 L983.3 955.3 L985.9 955.6 L988.4 955.5 L991 955.5 L993.6 956.2 L996.2 956.4 L998.8 956.5 L1001.3 954.5 L1003.9 955 L1006.5 955 L1006.5 947.9 L1009 947.8 L1011.5 948.2 L1014.1 948.8 L1016.6 947.4 L1019.1 949 L1021.6 949.2 L1024.1 948.9 L1026.7 948 L1029.2 947.3 L1031.7 948.9 L1034.2 948.2 L1036.7 948.2 L1039.3 948.1 L1041.8 948.2 L1044.3 950 L1046.8 950.7 L1049.3 949.1 L1051.9 948.2 L1054.4 949.4 L1056.9 949.3 L1059.4 948.3 L1061.9 948 L1064.5 948.9 L1067 948.7 L1069.5 948.7 L1069.5 943 L1072 945.6 L1074.6 944.9 L1077.1 943.6 L1079.7 943.7 L1082.2 942.7 L1084.7 942.4 L1087.3 942.3 L1089.8 941.8 L1092.4 942.5 L1094.9 942.7 L1097.4 942.8 L1100 943.5 L1102.5 944.1 L1105.1 943.6 L1107.6 944.3 L1110.1 944.7 L1112.7 943.8 L1115.2 944.1 L1117.8 942.9 L1120.3 942.1 L1122.8 942.5 L1125.4 943.4 L1127.9 944.9 L1130.5 944.2 L1133 943 L1133 940.8 L1138.3 939.6" stroke="#0000ff" stroke-width="10" />
<path d="M1133 940.8 L1138.3 939.6 L1143.7 939.8 L1149 935.5 L1154.3 938 L1159.7 938.7 L1165 937.2 L1170 935.6 L1175 932.9 L1180 932.2 L1185 933.3 L1190 935.1 L1195 933.8 L1200 932.9 L1205 933.6 L1210 937.6 L1215 937.3 L1220 935.8 L1225 938.6 L1230 939.3 L1235 941.5 L1240 940 L1245 941 L1250 939.4 L1255 939.8 L1260 937.6 L1265 939.3 L1270 938.2 L1275 938.7 L1280 935 L1285 936.9 L1290 931.2 L1295 930.7 L1300 930.6 L1305 933.9 L1310 930.3 L1315 935.4 L1320 935.2 L1325 929.2 L1330 932.1 L1335 933.8 L1340 923.9 L1345 928.6 L1350 927.6 L1355 928.7 L1360 929.8 L1365 943.3 L1370 942.9 L1374 943.5 L1378 945.3 L1384 944.8 L1390 939.2 L1395.3 936.1 L1400.7 937.8 L1406 937.1 L1411.3 944.2 L1416.7 939.4 L1422 941" stroke="#0000ff" stroke-width="11.5" style="stroke-linejoin:miter;stroke-miterlimit:6"/>
<path d="M1423 289 L1426 620 L1427.5 800 L1429 1000" stroke="#000080" stroke-width="8.5" />
<path d="M1423.5 1005 L1423 940 L1425.5 700 L1429 700 L1431.5 930 L1437 1000 L1438 1045 L1431 1066 L1428 1078 L1424 1070 L1421 1040 Z" style="fill:#0000ff;stroke:none"/>
<path d="M1420.5 572 L1421.5 800 L1422.5 990" stroke="#b000e0" stroke-width="5" />
</g>
<g class="frame">
<path d="M177 1029 L239 1029 L239 980 L304 980 L304 931 L367 931 L367 881 L431.5 881 L431.5 832.5 L495 832.5 L495 783 L558.5 783 L558.5 733.6 L622 733.6 L622 685 L685.8 685 L685.8 635.5 L749.5 635.5 L749.5 586.6 L813.5 586.6 L813.5 537.7 L877 537.7 L877 488.5 L941 488.5 L941 439.3 L1005.5 439.3 L1005.5 390.3 L1068.5 390.3 L1068.5 341.3 L1132 341.3 L1132 290.5" stroke="#000" stroke-width="7" stroke-linejoin="miter" stroke-linecap="butt"/>
<path d="M1132 293 L1154 293 L1154 276.6 L1176 276.6 L1176 260.2 L1197 260.2 L1197 243.8 L1219 243.8 L1219 227.4 L1240 227.4 L1240 211 L1262 211 L1262 194.6 L1283 194.6 L1283 178.2 L1304 178.2 L1304 161.8 L1325 161.8 L1325 145.4 L1347 145.4 L1347 129 L1368 129 L1368 112.6 L1388.5 112.6 L1388.5 94 L1412 94 L1412 79 L1437 79" stroke="#000" stroke-width="5.8" stroke-linejoin="miter" stroke-linecap="square"/>
<path d="M625 524.8 V1080.5" stroke="#000" stroke-width="7.2" stroke-linecap="round"/>
<path d="M1124.8 166 V1080.5" stroke="#000" stroke-width="7.2" stroke-linecap="round"/>
<path d="M1388.3 55 V1080.5" stroke="#000" stroke-width="7.2" stroke-linecap="round"/>
<path d="M177.5 52.5 V1078 H1555" stroke="#000" stroke-width="7.4" stroke-linejoin="miter"/>
<path d="M177.5 56 H198" stroke="#000" stroke-width="6.5" stroke-linecap="round"/>
<path d="M177.5 260 H198" stroke="#000" stroke-width="6.5" stroke-linecap="round"/>
<path d="M177.5 464 H198" stroke="#000" stroke-width="6.5" stroke-linecap="round"/>
<path d="M177.5 668.5 H198" stroke="#000" stroke-width="6.5" stroke-linecap="round"/>
<path d="M177.5 872.5 H198" stroke="#000" stroke-width="6.5" stroke-linecap="round"/>
<path d="M426.5 1078 V1057.5" stroke="#000" stroke-width="6" stroke-linecap="round"/>
<path d="M676.7 1078 V1057.5" stroke="#000" stroke-width="6" stroke-linecap="round"/>
<path d="M926.5 1078 V1057.5" stroke="#000" stroke-width="6" stroke-linecap="round"/>
<path d="M1176.3 1078 V1057.5" stroke="#000" stroke-width="6" stroke-linecap="round"/>
<path d="M1124 290.2 H1135 V344.8 H1124 Z" style="fill:#000;stroke:none"/>
<path d="M851.5 251.5 L952 381" stroke="#000" stroke-width="3.2"/>
<path d="M963.5 395.5 L942.6 379.6 L953.2 371.4 Z" style="fill:#000;stroke:none"/>
</g>
<g class="labels">
<text x="247" y="215" font-size="80" text-anchor="start" >water head difference</text>
<text x="273" y="817" font-size="80" text-anchor="start" >SS</text>
<text x="730" y="415" font-size="80" text-anchor="start" >SP</text>
<text x="1165" y="141" font-size="80" text-anchor="start" >PF</text>
<text x="1440" y="135" font-size="80" text-anchor="start" >CF</text>
<text x="1221" y="351" font-size="80" text-anchor="start" >C1</text>
<text x="1226" y="489.5" font-size="80" text-anchor="start" >C0</text>
<text x="1233" y="605.5" font-size="80" text-anchor="start" >B1</text>
<text x="1228" y="735" font-size="80" text-anchor="start" >B0</text>
<text x="1223" y="904" font-size="80" text-anchor="start" >A1</text>
<text x="1213" y="1045.5" font-size="80" text-anchor="start" >A0</text>
<text x="163" y="94.7" font-size="57.5" font-weight="700" text-anchor="end" >100</text>
<text x="163" y="297.5" font-size="57.5" font-weight="700" text-anchor="end" >80</text>
<text x="163" y="502.5" font-size="57.5" font-weight="700" text-anchor="end" >60</text>
<text x="163" y="706.5" font-size="57.5" font-weight="700" text-anchor="end" >40</text>
<text x="163" y="911" font-size="57.5" font-weight="700" text-anchor="end" >20</text>
<text x="161.5" y="1116" font-size="57.5" font-weight="700" text-anchor="end" >0</text>
<text x="427" y="1146.7" font-size="57.5" font-weight="700" text-anchor="middle" >200</text>
<text x="676" y="1146.7" font-size="57.5" font-weight="700" text-anchor="middle" >400</text>
<text x="927" y="1146.7" font-size="57.5" font-weight="700" text-anchor="middle" >600</text>
<text x="1176" y="1146.7" font-size="57.5" font-weight="700" text-anchor="middle" >800</text>
<text x="1425.5" y="1146.7" font-size="57.5" font-weight="700" text-anchor="middle" >1000</text>
<text x="819.5" y="1226" font-size="80" font-weight="700" text-anchor="middle" >Time</text>
<text x="0" y="0" font-size="80" font-weight="700" text-anchor="middle" transform="translate(84.5 577) rotate(-90)">pore-water pressure (cm)</text>
</g>
</svg>
</body>
</html>
